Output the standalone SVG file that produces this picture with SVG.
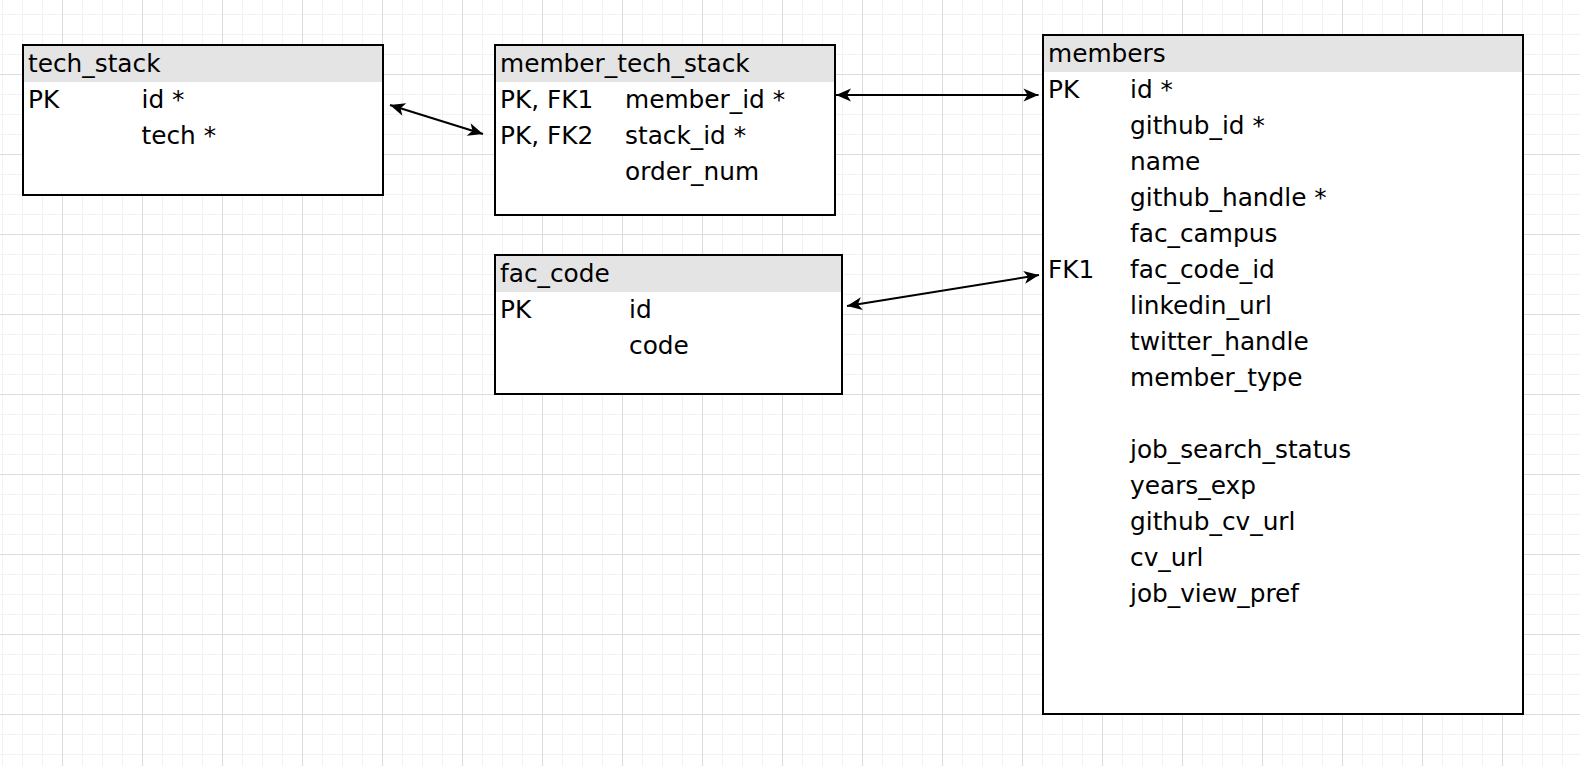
<svg xmlns="http://www.w3.org/2000/svg" width="1580" height="766" viewBox="0 0 1580 766">
<defs>
<pattern id="grid" patternUnits="userSpaceOnUse" x="2" y="14" width="80" height="80">
<path d="M0.5 0V80M20.5 0V80M40.5 0V80M0 0.5H80M0 20.5H80M0 40.5H80" stroke="#f2f2f2" stroke-width="1" fill="none"/>
<path d="M60.5 0V80M0 60.5H80" stroke="#dcdcdc" stroke-width="1" fill="none"/>
</pattern>
<marker id="arr" viewBox="-17 -8 18 16" refX="0" refY="0" markerWidth="18" markerHeight="16" markerUnits="userSpaceOnUse" orient="auto-start-reverse">
<path d="M0,0 L-15,-6.5 L-11,0 L-15,6.5 Z" fill="#000"/>
</marker>
</defs>
<style>
.box{fill:#fff;stroke:#000;stroke-width:2}
.hdr{fill:#e4e4e4}
text{font-family:"DejaVu Sans","Liberation Sans",sans-serif;font-size:24.8px;fill:#000}
.conn{stroke:#000;stroke-width:2;fill:none;marker-start:url(#arr);marker-end:url(#arr)}
</style>
<rect width="1580" height="766" fill="#fff"/>
<rect width="1580" height="766" fill="url(#grid)"/>

<g id="tech_stack">
<rect class="box" x="23" y="45" width="360" height="150"/>
<rect class="hdr" x="24" y="46" width="358" height="36"/>
<text x="28" y="72">tech_stack</text>
<text x="28" y="107.5">PK</text>
<text x="141.5" y="107.5">id *</text>
<text x="141.5" y="143.5">tech *</text>
</g>

<g id="member_tech_stack">
<rect class="box" x="495" y="45" width="340" height="170"/>
<rect class="hdr" x="496" y="46" width="338" height="36"/>
<text x="500" y="72">member_tech_stack</text>
<text x="500" y="107.5">PK, FK1</text>
<text x="625" y="107.5">member_id *</text>
<text x="500" y="143.5">PK, FK2</text>
<text x="625" y="143.5">stack_id *</text>
<text x="625" y="179.5">order_num</text>
</g>

<g id="fac_code">
<rect class="box" x="495" y="255" width="347" height="139"/>
<rect class="hdr" x="496" y="256" width="345" height="36"/>
<text x="500" y="281.5">fac_code</text>
<text x="500" y="317.5">PK</text>
<text x="629" y="317.5">id</text>
<text x="629" y="353.5">code</text>
</g>

<g id="members">
<rect class="box" x="1043" y="35" width="480" height="679"/>
<rect class="hdr" x="1044" y="36" width="478" height="36"/>
<text x="1048" y="61.5">members</text>
<text x="1048" y="97.5">PK</text>
<text x="1130" y="97.5">id *</text>
<text x="1130" y="133.5">github_id *</text>
<text x="1130" y="169.5">name</text>
<text x="1130" y="205.5">github_handle *</text>
<text x="1130" y="241.5">fac_campus</text>
<text x="1048" y="277.5">FK1</text>
<text x="1130" y="277.5">fac_code_id</text>
<text x="1130" y="313.5">linkedin_url</text>
<text x="1130" y="349.5">twitter_handle</text>
<text x="1130" y="385.5">member_type</text>
<text x="1130" y="457.5">job_search_status</text>
<text x="1130" y="493.5">years_exp</text>
<text x="1130" y="529.5">github_cv_url</text>
<text x="1130" y="565.5">cv_url</text>
<text x="1130" y="601.5">job_view_pref</text>
</g>

<g id="connectors">
<line class="conn" x1="390" y1="105" x2="483" y2="134"/>
<line class="conn" x1="836" y1="95" x2="1038.5" y2="95"/>
<line class="conn" x1="847" y1="306" x2="1039" y2="275"/>
</g>
</svg>
